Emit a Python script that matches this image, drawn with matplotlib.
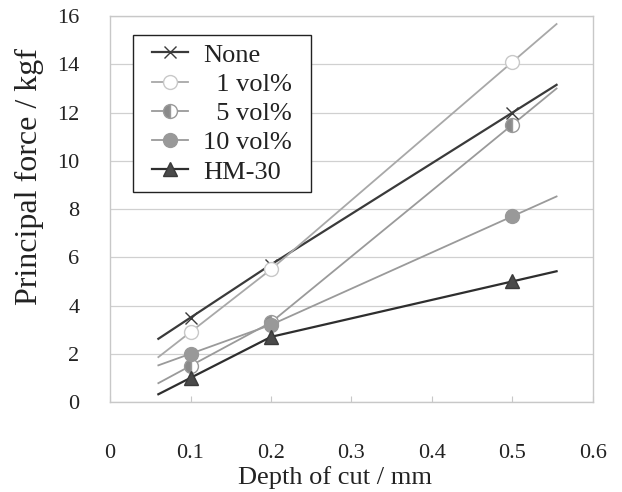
import numpy as np
import matplotlib
matplotlib.use("Agg")
import matplotlib.pyplot as plt
from matplotlib.patches import Rectangle

plt.rcParams['font.family'] = ['Liberation Serif', 'DejaVu Serif']

depth = [0.1, 0.2, 0.5]
none_vals = [3.5, 5.7, 12.0]
vol1_vals = [2.9, 5.5, 14.1]
vol5_vals = [1.5, 3.3, 11.5]
vol10_vals = [2.0, 3.2, 7.7]
hm30_vals = [1.0, 2.7, 5.0]
labels = ["None", "  1 vol%", "  5 vol%", "10 vol%", "HM-30"]
x_ticks = [0, 0.1, 0.2, 0.3, 0.4, 0.5, 0.6]
y_ticks = [0, 2, 4, 6, 8, 10, 12, 14, 16]
x_start, x_end = 0.06, 0.555


def extend(xs, ys):
    xs = np.asarray(xs, float)
    ys = np.asarray(ys, float)
    s0 = (ys[1] - ys[0]) / (xs[1] - xs[0])
    s1 = (ys[-1] - ys[-2]) / (xs[-1] - xs[-2])
    xe = np.concatenate([[x_start], xs, [x_end]])
    ye = np.concatenate([[ys[0] - s0 * (xs[0] - x_start)], ys,
                         [ys[-1] + s1 * (x_end - xs[-1])]])
    return xe, ye


fig = plt.figure(figsize=(6.22, 4.92), dpi=100)
ax = fig.add_axes([0.177, 0.183, 0.776, 0.784])

styles = [
    dict(color='#3a3a3a', lw=1.6, marker='x', ms=9, mec='#3a3a3a', mfc='none', mew=1.0),
    dict(color='#a8a8a8', lw=1.3, marker='o', ms=10, mec='#c8c8c8', mfc='white', mew=1.0),
    dict(color='#9a9a9a', lw=1.3, marker='o', ms=10, mec='#9a9a9a', mfc='#8a8a8a',
         fillstyle='left', markerfacecoloralt='white', mew=1.0),
    dict(color='#9a9a9a', lw=1.3, marker='o', ms=10, mec='#999999', mfc='#999999', mew=1.0),
    dict(color='#2e2e2e', lw=1.6, marker='^', ms=10, mec='#3a3a3a', mfc='#4a4a4a', mew=1.0),
]
series = [none_vals, vol1_vals, vol5_vals, vol10_vals, hm30_vals]

for vals, st, lab in zip(series, styles, labels):
    xe, ye = extend(depth, vals)
    line_kw = dict(color=st['color'], lw=st['lw'])
    ax.plot(xe, ye, **line_kw, zorder=2)
    mk = {k: v for k, v in st.items() if k not in ('color', 'lw')}
    ax.plot(depth, vals, ls='none', zorder=3, **mk)
    ax.plot([], [], label=lab, **line_kw, **mk)

ax.set_xlim(0, 0.6)
ax.set_ylim(0, 16)
ax.set_xticks(x_ticks)
ax.set_xticklabels(['0', '0.1', '0.2', '0.3', '0.4', '0.5', '0.6'])
ax.set_yticks(y_ticks)
ax.set_yticklabels([str(v) for v in y_ticks])
ax.yaxis.grid(True, color='#d0d0d0', lw=0.9)
ax.set_axisbelow(True)
for sp in ax.spines.values():
    sp.set_color('#c8c8c8')
    sp.set_linewidth(1.0)
ax.tick_params(axis='x', direction='in', length=4, color='#c8c8c8', pad=30,
               labelsize=16, labelcolor='#222222')
ax.tick_params(axis='y', length=0, pad=22, labelsize=16, labelcolor='#222222')

ax.set_xlabel('Depth of cut / mm', fontsize=19, color='#222222')
ax.xaxis.set_label_coords(0.466, -0.166)
ax.set_ylabel('Principal force / kgf', fontsize=23, color='#222222')
ax.yaxis.set_label_coords(-0.136, 0.585)

# legend: content anchored, frame drawn wider than the default padding
leg = ax.legend(loc='upper left', bbox_to_anchor=(0.07, 0.951), borderaxespad=0,
                fontsize=19, labelspacing=0.22, handlelength=1.36, handletextpad=0.57,
                borderpad=0.3, frameon=False)
for t in leg.get_texts():
    t.set_color('#222222')

fig.canvas.draw()
bb = leg.get_window_extent(fig.canvas.get_renderer())
extra = 11
inv = fig.transFigure.inverted()
(x0, y0), (x1, y1) = inv.transform([(bb.x0 - extra, bb.y0), (bb.x1 + extra, bb.y1)])
frame = Rectangle((x0, y0), x1 - x0, y1 - y0, transform=fig.transFigure,
                  facecolor='white', edgecolor='#222222', lw=1.0, zorder=4)
fig.add_artist(frame)
leg.set_zorder(5)
leg.remove()
fig.add_artist(leg)

fig.savefig('out.png', dpi=100, facecolor='white')
